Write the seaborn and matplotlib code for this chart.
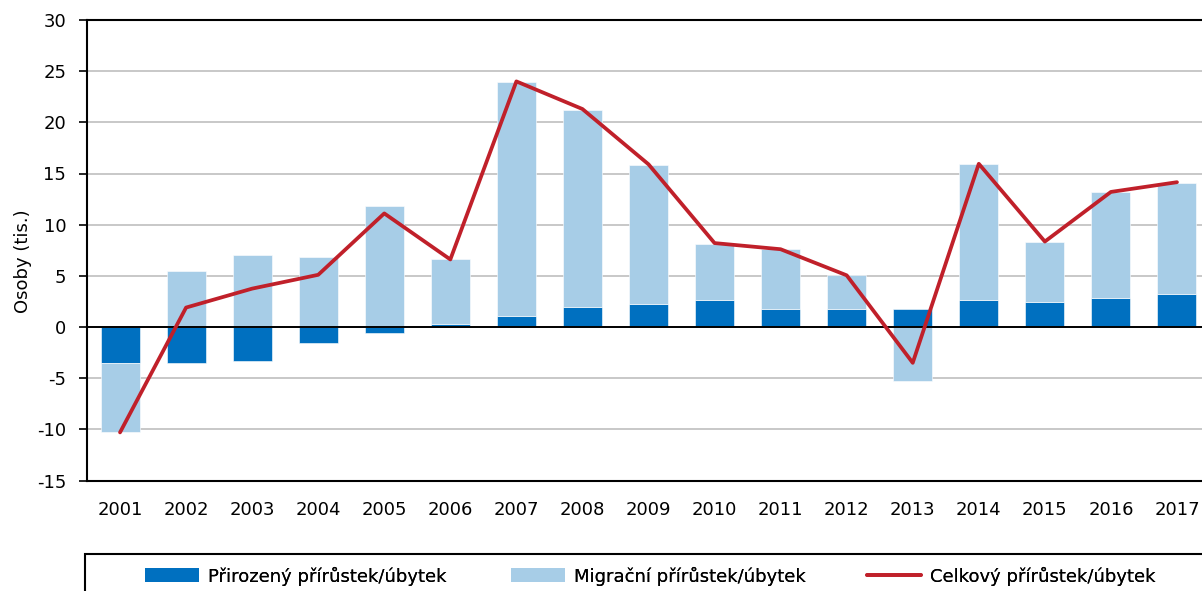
import matplotlib
matplotlib.use("Agg")
import matplotlib.pyplot as plt
import seaborn as sns
import numpy as np
import pandas as pd
from matplotlib.patches import Rectangle, Patch
from matplotlib.lines import Line2D

years = ["2001", "2002", "2003", "2004", "2005", "2006", "2007", "2008", "2009",
         "2010", "2011", "2012", "2013", "2014", "2015", "2016", "2017"]
natural = [-3.5, -3.5, -3.3, -1.6, -0.6, 0.25, 1.05, 2.0, 2.2, 2.6, 1.8, 1.8, 1.8, 2.6, 2.4, 2.8, 3.2]
migration = [-6.8, 5.45, 7.0, 6.8, 11.85, 6.4, 22.9, 19.2, 13.65, 5.55, 5.8, 3.25, -5.25, 13.3, 5.95, 10.4, 10.9]
total = [-10.3, 1.9, 3.75, 5.1, 11.1, 6.6, 24.0, 21.3, 15.9, 8.2, 7.6, 5.05, -3.5, 15.95, 8.35, 13.2, 14.15]

lbl_nat = "Přirozený přírůstek/úbytek"
lbl_mig = "Migrační přírůstek/úbytek"
lbl_tot = "Celkový přírůstek/úbytek"

c_nat = "#0070C0"
c_mig = "#A7CDE7"
c_tot = "#C0202A"

sns.set_theme(style="white")
plt.rcParams["font.family"] = ["DejaVu Sans"]
plt.rcParams["axes.unicode_minus"] = False
plt.rcParams["text.color"] = "black"
FS = 13

W, H = 1202, 591
fig = plt.figure(figsize=(W / 100, H / 100), dpi=100)
left_px, right_px, top_px, bot_px = 87, 1210, 20, 480.5
ax = fig.add_axes([left_px / W, (H - bot_px) / H, (right_px - left_px) / W, (bot_px - top_px) / H])

df = pd.DataFrame({"year": years, "natural": natural, "migration": migration, "total": total})
pos = np.arange(len(years))
bw = 0.59

ax.set_axisbelow(True)
ax.yaxis.grid(True, color="#BFBFBF", linewidth=1.2)
ax.xaxis.grid(False)

sns.barplot(data=df, x="year", y="natural", color=c_nat, width=bw, ax=ax,
            saturation=1, edgecolor="white", linewidth=0.4, zorder=2)
bottoms = [n if (n * m > 0) else 0 for n, m in zip(natural, migration)]
ax.bar(pos, migration, bottom=bottoms, width=bw, color=c_mig,
       edgecolor="white", linewidth=0.4, zorder=2)
sns.lineplot(x=pos, y=total, color=c_tot, linewidth=2.7, ax=ax, zorder=4)

ax.axhline(0, color="black", linewidth=1.4, zorder=3)
ax.set_ylim(-15, 30)
ax.set_xlim(-0.5, len(years) - 0.5)
ax.set_yticks(np.arange(-15, 31, 5))
ax.set_xticks(pos)
ax.set_xticklabels(years)
ax.tick_params(axis="y", which="both", left=True, length=6, width=1.2, color="black",
               labelsize=FS, pad=9, labelcolor="black")
ax.tick_params(axis="x", length=0, labelsize=FS, pad=15, labelcolor="black")
ax.set_xlabel("")
ax.set_ylabel("Osoby (tis.)", fontsize=FS, color="black")
ax.yaxis.set_label_coords((32 - left_px) / (right_px - left_px), (bot_px - 261) / (bot_px - top_px))

for s in ["left", "top", "bottom"]:
    ax.spines[s].set_visible(True)
    ax.spines[s].set_color("black")
    ax.spines[s].set_linewidth(1.5)
ax.spines["right"].set_visible(False)

# legend frame
fig.patches.append(Rectangle((85 / W, -0.05), 1.2, (H - 554) / H + 0.05,
                             transform=fig.transFigure, fill=False,
                             edgecolor="black", linewidth=1.5, clip_on=False))
entries = [
    (Patch(facecolor=c_nat, edgecolor="none"), lbl_nat, 145),
    (Patch(facecolor=c_mig, edgecolor="none"), lbl_mig, 511),
    (Line2D([0], [0], color=c_tot, linewidth=2.7), lbl_tot, 867),
]
for h, lab, xpx in entries:
    lg = fig.legend([h], [lab], frameon=False, loc="center left",
                    bbox_to_anchor=(xpx / W, (H - 576) / H),
                    borderpad=0, borderaxespad=0, fontsize=FS, handlelength=3.0,
                    handleheight=0.78, handletextpad=0.5, labelcolor="black")
    fig.add_artist(lg)

fig.savefig("out.png", dpi=100)
